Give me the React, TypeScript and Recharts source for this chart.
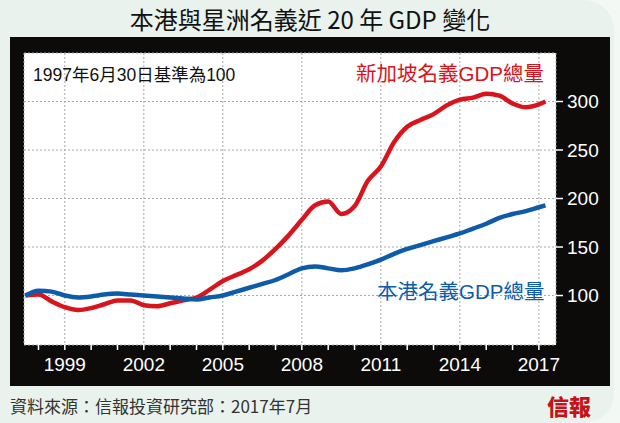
import { CartesianGrid, Line, LineChart, XAxis, YAxis } from "recharts";

const RED = "#d8141c";
const BLUE = "#0e5ca9";
const PANEL = "#0d0b0a";
const CJK = '"Noto Sans CJK TC", "Noto Sans", sans-serif';
const NUM = '"Liberation Sans", Arial, "Noto Sans CJK TC", sans-serif';

// half-year points, 1997年6月30日 = 100
const periods = [
  1997.5, 1998, 1998.5, 1999, 1999.5, 2000, 2000.5, 2001, 2001.5, 2002, 2002.5,
  2003, 2003.5, 2004, 2004.5, 2005, 2005.5, 2006, 2006.5, 2007, 2007.5, 2008,
  2008.5, 2009, 2009.5, 2010, 2010.5, 2011, 2011.5, 2012, 2012.5, 2013, 2013.5,
  2014, 2014.5, 2015, 2015.5, 2016, 2016.5, 2017, 2017.25,
];
const singapore = [
  100, 101, 94, 88, 85, 87, 91, 95, 95, 90, 89, 92, 95, 98, 106, 115, 121, 127,
  136, 148, 162, 178, 193, 197, 184, 192, 218, 233, 258, 274, 281, 287, 296,
  302, 304, 308, 306, 298, 294, 297, 300,
];
const hongKong = [
  100, 105, 104, 100, 98, 99, 101, 102, 101, 100, 99, 98, 97, 96, 98, 100, 104,
  108, 112, 116, 122, 128, 130, 128, 126, 128, 132, 137, 143, 148, 152, 156,
  160, 164, 169, 174, 180, 184, 187, 191, 193,
];
const yearTicks = [
  1998, 1999, 2000, 2001, 2002, 2003, 2004, 2005, 2006, 2007, 2008, 2009, 2010,
  2011, 2012, 2013, 2014, 2015, 2016, 2017,
];
const labelYears = [1999, 2002, 2005, 2008, 2011, 2014, 2017];
const valueTicks = [100, 150, 200, 250, 300];

const data = periods.map((t, i) => ({
  t,
  sg: singapore[i],
  hk: hongKong[i],
}));

export default function App() {
  return (
    <div
      style={{
        position: "fixed",
        left: 0,
        top: 0,
        width: 620,
        height: 423,
        background: "#f4f8f5",
        overflow: "hidden",
      }}
    >
      <div
        style={{
          position: "absolute",
          left: 0,
          top: 0,
          width: 614,
          height: 423,
          background: "#e9f2ec",
          borderTopRightRadius: 30,
          borderBottomRightRadius: 30,
        }}
      />
      <div
        style={{
          position: "absolute",
          left: 0,
          top: 3,
          width: 620,
          textAlign: "center",
          fontFamily: CJK,
          fontSize: 24,
          lineHeight: "32px",
          color: "#111",
        }}
      >
        本港與星洲名義近 20 年 GDP 變化
      </div>
      <div
        style={{
          position: "absolute",
          left: 10,
          top: 37,
          width: 600,
          height: 349,
          background: PANEL,
        }}
      >
        <LineChart
          width={600}
          height={349}
          data={data}
          margin={{ top: 16, right: 0, bottom: 0, left: 14 }}
        >
          <CartesianGrid
            xAxisId="grid"
            fill="#ffffff"
            fillOpacity={1}
            stroke="#a8a8a8"
            strokeDasharray="2 2"
          />
          <XAxis
            dataKey="t"
            type="number"
            domain={[1997.45, 2017.65]}
            ticks={yearTicks}
            interval={0}
            tickFormatter={(v) => (labelYears.includes(v) ? String(v) : "")}
            tick={{ fill: "#fff", fontSize: 19, fontFamily: NUM }}
            tickLine={{ stroke: "#fff", strokeWidth: 1.5 }}
            tickSize={5}
            tickMargin={8}
            axisLine={false}
            height={41}
          />
          <XAxis
            xAxisId="grid"
            dataKey="t"
            type="number"
            domain={[1997.45, 2017.65]}
            ticks={labelYears}
            hide
          />
          <YAxis
            orientation="right"
            domain={[49, 350]}
            ticks={valueTicks}
            interval={0}
            tick={{ fill: "#fff", fontSize: 19, fontFamily: NUM }}
            tickLine={{ stroke: "#fff", strokeWidth: 1.5 }}
            tickSize={7}
            tickMargin={4}
            axisLine={false}
            width={54}
          />
          <Line
            type="monotone"
            dataKey="sg"
            stroke={RED}
            strokeWidth={4.5}
            dot={false}
            isAnimationActive={false}
          />
          <Line
            type="monotone"
            dataKey="hk"
            stroke={BLUE}
            strokeWidth={4.5}
            dot={false}
            isAnimationActive={false}
          />
        </LineChart>
      </div>
      <div
        style={{
          position: "absolute",
          left: 33,
          top: 63,
          fontFamily: NUM,
          fontSize: 17.5,
          lineHeight: "24px",
          color: "#111",
          whiteSpace: "nowrap",
        }}
      >
        1997年6月30日基準為100
      </div>
      <div
        style={{
          position: "absolute",
          left: 356,
          top: 61,
          fontFamily: NUM,
          fontSize: 20.5,
          lineHeight: "26px",
          color: RED,
          whiteSpace: "nowrap",
        }}
      >
        新加坡名義GDP總量
      </div>
      <div
        style={{
          position: "absolute",
          left: 377,
          top: 279,
          fontFamily: NUM,
          fontSize: 20.5,
          lineHeight: "26px",
          color: BLUE,
          whiteSpace: "nowrap",
        }}
      >
        本港名義GDP總量
      </div>
      <div
        style={{
          position: "absolute",
          left: 10,
          top: 394,
          fontFamily: CJK,
          fontSize: 17,
          lineHeight: "24px",
          color: "#333",
          whiteSpace: "nowrap",
        }}
      >
        資料來源：信報投資研究部：2017年7月
      </div>
      <div
        style={{
          position: "absolute",
          left: 547,
          top: 391,
          fontFamily: CJK,
          fontSize: 22,
          fontWeight: 900,
          lineHeight: "28px",
          color: "#c8121a",
          whiteSpace: "nowrap",
        }}
      >
        信報
      </div>
    </div>
  );
}
